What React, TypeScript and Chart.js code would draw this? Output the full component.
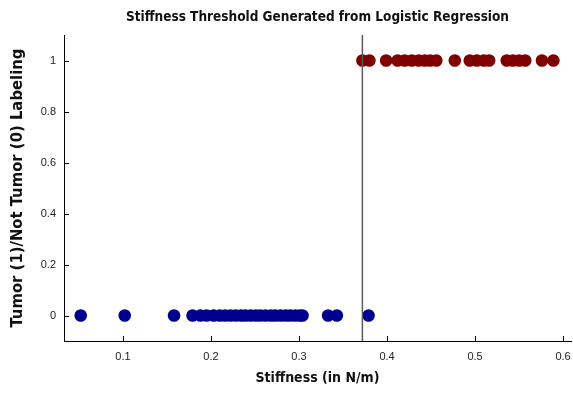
import React, { useEffect, useRef } from "react";
import { Chart, registerables } from "chart.js";

Chart.register(...registerables);

const TITLE = "Stiffness Threshold Generated from Logistic Regression";
const X_LABEL = "Stiffness (in N/m)";
const Y_LABEL = "Tumor (1)/Not Tumor (0) Labeling";

// Stiffness values labelled "Not Tumor" (0)
const NOT_TUMOR_X = [
  0.052, 0.102, 0.158, 0.179, 0.188, 0.195, 0.203, 0.21, 0.216, 0.222, 0.228,
  0.234, 0.239, 0.245, 0.251, 0.256, 0.262, 0.268, 0.273, 0.279, 0.285, 0.29,
  0.296, 0.301, 0.304, 0.333, 0.343, 0.379,
];
// Stiffness values labelled "Tumor" (1)
const TUMOR_X = [
  0.372, 0.38, 0.399, 0.412, 0.42, 0.428, 0.436, 0.443, 0.449, 0.456, 0.477,
  0.494, 0.502, 0.51, 0.516, 0.536, 0.543, 0.55, 0.557, 0.576, 0.589,
];
const NOT_TUMOR_Y = 0;
const TUMOR_Y = 1;
const THRESHOLD = 0.372;

const X_TICKS = [0.1, 0.2, 0.3, 0.4, 0.5, 0.6];
const Y_TICKS = [0, 0.2, 0.4, 0.6, 0.8, 1];
const X_MIN = 0.033;
const X_MAX = 0.609;
const Y_MIN = -0.1;
const Y_MAX = 1.1;

const CONDENSED = "'DejaVu Sans Condensed', 'Liberation Sans Narrow', sans-serif";
const TICK_FONT = "'Liberation Sans', Arial, sans-serif";

const innerTicksPlugin = {
  id: "innerTicks",
  afterDraw(chart: any) {
    const { ctx, chartArea, scales } = chart;
    const xs = scales.x;
    const ys = scales.y;
    ctx.save();
    // threshold line
    const tx = xs.getPixelForValue(THRESHOLD);
    ctx.strokeStyle = "#5a5a5a";
    ctx.lineWidth = 1.5;
    ctx.beginPath();
    ctx.moveTo(tx, chartArea.top);
    ctx.lineTo(tx, chartArea.bottom);
    ctx.stroke();
    // inner tick marks
    ctx.strokeStyle = "#000";
    ctx.lineWidth = 1;
    ctx.beginPath();
    X_TICKS.forEach((v) => {
      const px = Math.round(xs.getPixelForValue(v)) + 0.5;
      ctx.moveTo(px, chartArea.bottom);
      ctx.lineTo(px, chartArea.bottom - 5);
    });
    Y_TICKS.forEach((v) => {
      const py = Math.round(ys.getPixelForValue(v)) + 0.5;
      ctx.moveTo(chartArea.left, py);
      ctx.lineTo(chartArea.left + 5, py);
    });
    ctx.stroke();
    ctx.restore();
  },
};

export default function App() {
  const ref = useRef<HTMLCanvasElement | null>(null);

  useEffect(() => {
    document.body.style.margin = "0";
    const canvas = ref.current;
    if (!canvas) return;
    const chart = new Chart(canvas, {
      type: "scatter",
      data: {
        datasets: [
          {
            label: "Not Tumor",
            data: NOT_TUMOR_X.map((x) => ({ x, y: NOT_TUMOR_Y })),
            backgroundColor: "#00008f",
            borderColor: "#00008f",
            pointRadius: 6.3,
            pointHoverRadius: 6.3,
            borderWidth: 0,
            clip: false,
          },
          {
            label: "Tumor",
            data: TUMOR_X.map((x) => ({ x, y: TUMOR_Y })),
            backgroundColor: "#7f0000",
            borderColor: "#7f0000",
            pointRadius: 6.3,
            pointHoverRadius: 6.3,
            borderWidth: 0,
            clip: false,
          },
        ],
      },
      options: {
        responsive: false,
        animation: false,
        events: [],
        layout: { autoPadding: false, padding: { left: 0, right: 2, top: 0, bottom: 0 } },
        plugins: {
          legend: { display: false },
          tooltip: { enabled: false },
          title: {
            display: true,
            fullSize: false,
            text: TITLE,
            color: "#111",
            font: { family: CONDENSED, size: 13.5, weight: "bold", lineHeight: "21px" },
            padding: { top: 7, bottom: 7 },
          },
        },
        scales: {
          x: {
            type: "linear",
            min: X_MIN,
            max: X_MAX,
            afterBuildTicks: (scale: any) => {
              scale.ticks = X_TICKS.map((v) => ({ value: v }));
            },
            afterFit: (scale: any) => {
              scale.height = 52;
              scale.paddingLeft = 0;
              scale.paddingRight = 0;
            },
            grid: { display: true, drawOnChartArea: false, drawTicks: false },
            border: { display: true, color: "#000", width: 1 },
            ticks: {
              padding: 9,
              color: "#222",
              font: { family: TICK_FONT, size: 11 },
              callback: (v: any) => String(v),
            },
            title: {
              display: true,
              text: X_LABEL,
              color: "#111",
              font: { family: CONDENSED, size: 14, weight: "bold", lineHeight: "21px" },
              padding: { top: 2, bottom: 4 },
            },
          },
          y: {
            type: "linear",
            min: Y_MIN,
            max: Y_MAX,
            afterBuildTicks: (scale: any) => {
              scale.ticks = Y_TICKS.map((v) => ({ value: v }));
            },
            afterFit: (scale: any) => {
              scale.width = 64;
              scale.paddingTop = 0;
              scale.paddingBottom = 0;
            },
            grid: { display: true, drawOnChartArea: false, drawTicks: false },
            border: { display: true, color: "#000", width: 1 },
            ticks: {
              padding: 8,
              color: "#222",
              font: { family: TICK_FONT, size: 11 },
              callback: (v: any) => String(v),
            },
            title: {
              display: true,
              text: Y_LABEL,
              color: "#111",
              font: { family: CONDENSED, size: 16.5, weight: "bold", lineHeight: "21px" },
              padding: { top: 7, bottom: 0 },
            },
          },
        },
      },
      plugins: [innerTicksPlugin],
    } as any);
    return () => chart.destroy();
  }, []);

  return (
    <div style={{ width: 573, height: 393, background: "#fff" }}>
      <canvas ref={ref} width={573} height={393} style={{ display: "block" }} />
    </div>
  );
}
